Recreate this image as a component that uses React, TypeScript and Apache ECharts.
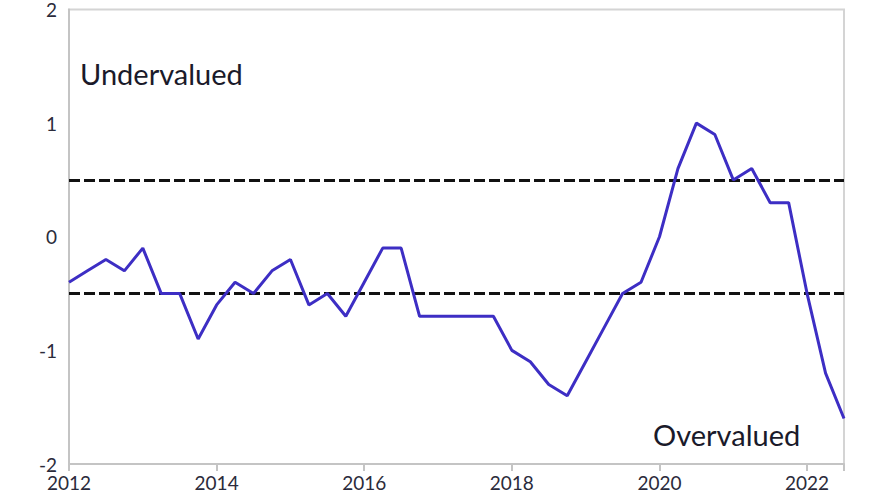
import React, { useEffect, useRef } from "react";
import * as echarts from "echarts";

const quarters: number[] = [
  2012, 2012.25, 2012.5, 2012.75, 2013, 2013.25, 2013.5, 2013.75,
  2014, 2014.25, 2014.5, 2014.75, 2015, 2015.25, 2015.5, 2015.75,
  2016, 2016.25, 2016.5, 2016.75, 2017, 2017.25, 2017.5, 2017.75,
  2018, 2018.25, 2018.5, 2018.75, 2019, 2019.25, 2019.5, 2019.75,
  2020, 2020.25, 2020.5, 2020.75, 2021, 2021.25, 2021.5, 2021.75,
  2022, 2022.25, 2022.5,
];

const valuation: number[] = [
  -0.4, -0.3, -0.2, -0.3, -0.1, -0.5, -0.5, -0.9,
  -0.6, -0.4, -0.5, -0.3, -0.2, -0.6, -0.5, -0.7,
  -0.4, -0.1, -0.1, -0.7, -0.7, -0.7, -0.7, -0.7,
  -1.0, -1.1, -1.3, -1.4, -1.1, -0.8, -0.5, -0.4,
  0.0, 0.6, 1.0, 0.9, 0.5, 0.6, 0.3, 0.3,
  -0.5, -1.2, -1.6,
];

const thresholds: number[] = [0.5, -0.5];
const annotations: string[] = ["Undervalued", "Overvalued"];

export default function App() {
  const ref = useRef<HTMLDivElement>(null);

  useEffect(() => {
    if (!ref.current) return;
    const chart = echarts.init(ref.current, null, { renderer: "svg" });
    const font = "Lato, 'Open Sans', sans-serif";
    chart.setOption({
      animation: false,
      backgroundColor: "#ffffff",
      grid: { left: 69, right: 36, top: 5, bottom: 36, show: true, borderColor: "#d4d4d4", borderWidth: 2, containLabel: false },
      xAxis: {
        type: "value",
        min: 2012,
        max: 2022.5,
        interval: 2,
        axisLine: { show: true, onZero: false, lineStyle: { color: "#c4c4c4", width: 2 } },
        axisTick: { show: true, length: 7, lineStyle: { color: "#c4c4c4", width: 2 } },
        splitLine: { show: false },
        axisLabel: {
          color: "#2b2b3b",
          fontFamily: font,
          fontSize: 19,
          margin: 9,
          formatter: (v: number) => (Math.abs(v % 2) < 1e-9 ? String(v) : ""),
        },
      },
      yAxis: {
        type: "value",
        min: -2,
        max: 2,
        interval: 1,
        axisLine: { show: true, onZero: false, lineStyle: { color: "#c4c4c4", width: 2 } },
        axisTick: { show: false },
        splitLine: { show: false },
        axisLabel: { color: "#2b2b3b", fontFamily: font, fontSize: 19, margin: 12 },
      },
      series: [
        {
          type: "line",
          data: quarters.map((q, i) => [q, valuation[i]]),
          showSymbol: false,
          symbol: "none",
          lineStyle: { color: "#3d2ec4", width: 3 },
          itemStyle: { color: "#3d2ec4" },
          z: 3,
          markLine: {
            silent: true,
            symbol: ["none", "none"],
            label: { show: false },
            lineStyle: { color: "#111111", type: [11, 4], width: 3 },
            data: thresholds.map((t) => ({ yAxis: t })),
            z: 2,
          },
        },
      ],
      graphic: [
        {
          type: "text",
          left: 80,
          top: 59,
          style: { text: annotations[0], fontFamily: font, fontSize: 29, fill: "#1a1a2a" },
        },
        {
          type: "text",
          left: 653,
          top: 420,
          style: { text: annotations[1], fontFamily: font, fontSize: 29, fill: "#1a1a2a" },
        },
      ],
    });
    return () => chart.dispose();
  }, []);

  return <div ref={ref} style={{ width: 880, height: 500, position: "absolute", left: 0, top: 0 }} />;
}
